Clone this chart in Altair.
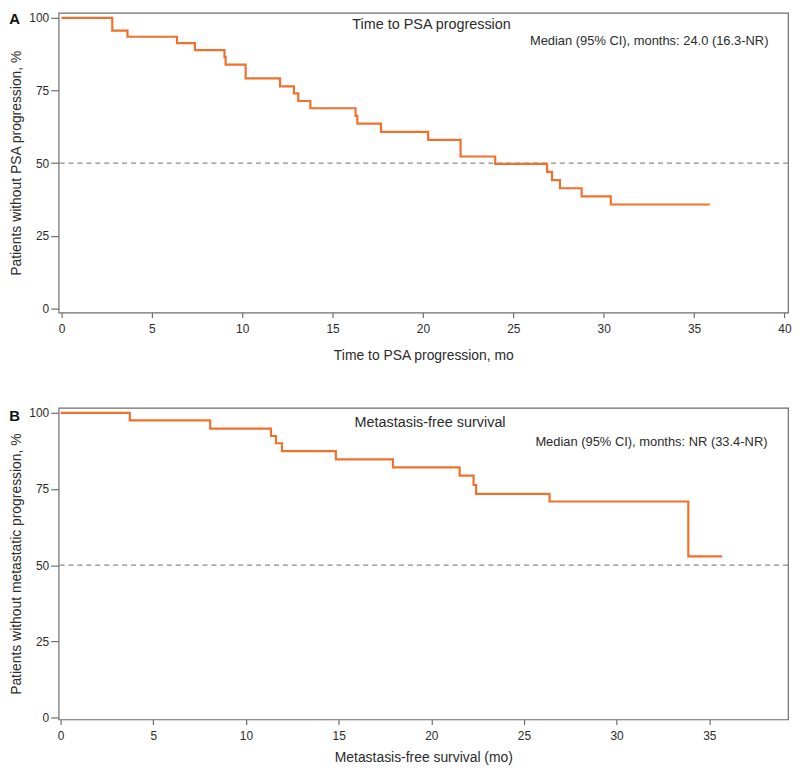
import altair as alt
import pandas as pd

# ---- Data ----
psa_months = [0, 2.81, 3.65, 6.39, 7.38, 9.02, 9.08, 10.19, 12.09, 12.86, 13.10, 13.77,
              16.27, 16.37, 17.68, 20.29, 22.08, 24.00, 26.87, 27.14, 27.58, 28.78, 30.39, 35.87]
psa_pct = [100, 95.6, 93.5, 91.3, 88.9, 86.5, 83.9, 79.2, 76.4, 74.0, 71.4, 68.9,
           66.3, 63.6, 60.8, 58.0, 52.3, 49.8, 47.0, 44.2, 41.4, 38.6, 35.8, 35.8]

mfs_months = [0, 3.73, 8.07, 11.35, 11.62, 11.94, 14.85, 17.93, 21.53, 22.28, 22.42, 26.38, 33.87, 35.70]
mfs_pct = [100, 97.5, 94.8, 92.4, 90.0, 87.4, 84.7, 82.1, 79.4, 76.3, 73.4, 70.9, 52.9, 52.9]

x_ticks_a = [0, 5, 10, 15, 20, 25, 30, 35, 40]
x_ticks_b = [0, 5, 10, 15, 20, 25, 30, 35]
y_ticks = [0, 25, 50, 75, 100]

ORANGE = "#F0702D"
FRAME = "#6e6e6e"
TEXT = "#2b2b2b"
FONT = "Liberation Sans"
W = 735


def panel(months, pct, xdom, xvals, ydom, height, xtitle, ytitle, xtitle_y,
          letter, letter_y, title, title_x, title_y, median, med_x, med_y):
    df = pd.DataFrame({"t": months, "s": pct})
    xs = alt.Scale(domain=xdom, nice=False, zero=False)
    ys = alt.Scale(domain=ydom, nice=False, zero=False)
    line = alt.Chart(df).mark_line(
        interpolate="step-after", color=ORANGE, strokeWidth=2.2
    ).encode(
        x=alt.X("t:Q", scale=xs,
                axis=alt.Axis(values=xvals, title=xtitle, titleY=xtitle_y, format="d")),
        y=alt.Y("s:Q", scale=ys,
                axis=alt.Axis(values=y_ticks, title=ytitle, titleX=-35, format="d")),
    )
    one = pd.DataFrame({"k": [0]})
    rule = alt.Chart(one).mark_rule(
        strokeDash=[5, 4], color="#8a8a8a", strokeWidth=1.2
    ).encode(y=alt.datum(50))
    lab = alt.Chart(one).mark_text(
        text=letter, align="left", baseline="top", fontSize=15,
        fontWeight="bold", font=FONT, color="#111111"
    ).encode(x=alt.value(-49.7), y=alt.value(letter_y))
    ttl = alt.Chart(one).mark_text(
        text=title, align="center", baseline="alphabetic", fontSize=14.5,
        font=FONT, color=TEXT
    ).encode(x=alt.value(title_x), y=alt.value(title_y))
    med = alt.Chart(one).mark_text(
        text=median, align="right", baseline="alphabetic", fontSize=13,
        font=FONT, color=TEXT
    ).encode(x=alt.value(med_x), y=alt.value(med_y))
    return alt.layer(rule, line, lab, ttl, med).properties(width=W, height=height)


top = panel(psa_months, psa_pct, [-0.16, 40.2], x_ticks_a, [-1.37, 101.71], 302,
            "Time to PSA progression, mo", "Patients without PSA progression, %", 36,
            "A", -1, "Time to PSA progression", 375.8, 16,
            "Median (95% CI), months: 24.0 (16.3-NR)", 715.3, 32.7)

bottom = panel(mfs_months, mfs_pct, [-0.11, 39.25], x_ticks_b, [-0.65, 101.63], 314,
               "Metastasis-free survival (mo)", "Patients without metastatic progression, %", 31,
               "B", 1.2, "Metastasis-free survival", 374.3, 19.25,
               "Median (95% CI), months: NR (33.4-NR)", 714.3, 38.25)

chart = alt.vconcat(top, bottom, spacing=96, bounds="flush").properties(
    padding=0, background="white"
).configure_view(
    stroke=FRAME, strokeWidth=1.2
).configure_axis(
    grid=False, domain=False, tickColor=FRAME, tickWidth=1.2,
    labelFont=FONT, labelFontSize=12, labelColor=TEXT,
    titleFont=FONT, titleFontSize=14, titleFontWeight="normal", titleColor=TEXT,
).configure_axisX(
    tickSize=5, labelPadding=6
).configure_axisY(
    tickSize=8, labelPadding=2
)

chart.save("out.html", embed_options={"renderer": "svg", "actions": False})
